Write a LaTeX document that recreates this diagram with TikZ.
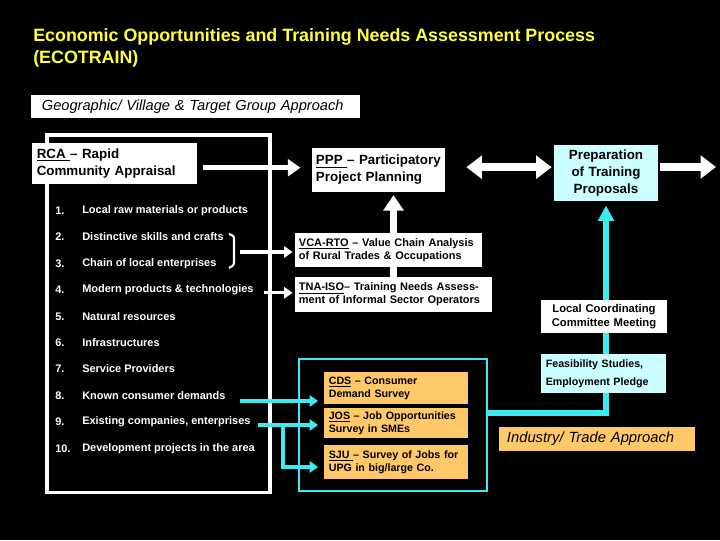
\documentclass[tikz,border=0pt]{standalone}
\usepackage{fontspec}
\setmainfont{Liberation Sans}
\usetikzlibrary{arrows.meta}

\definecolor{titleyellow}{RGB}{255,255,60}
\definecolor{flowcyan}{RGB}{60,235,240}
\definecolor{palecyan}{RGB}{204,255,255}
\definecolor{surveyorange}{RGB}{255,200,105}

\pgfdeclarelayer{canvas}
\pgfdeclarelayer{back}
\pgfsetlayers{canvas,back,main}

\tikzset{
 titletext/.style={anchor=west, align=left, inner sep=0pt, text=titleyellow,
   font=\bfseries\fontsize{12.7}{15.6}\selectfont},
 panel/.style={fill=white, text=black, align=left, inner xsep=0.12cm, inner ysep=0pt,
   font=\bfseries\fontsize{9.5}{12}\selectfont},
 smallpanel/.style={panel, font=\bfseries\fontsize{7.8}{9.4}\selectfont},
 surveybox/.style={smallpanel, fill=surveyorange, font=\bfseries\fontsize{7.6}{9.4}\selectfont},
 listnum/.style={anchor=west, inner sep=0pt, text=white, font=\bfseries\fontsize{7.8}{9}\selectfont},
 listtext/.style={listnum},
 bigarrow/.style={draw=white, line width=5.5pt, -{Triangle[length=11pt,width=16pt]}},
 whitearrow/.style={draw=white, line width=3.5pt, -{Triangle[length=9pt,width=12pt]}},
 smallarrow/.style={draw=white, line width=2.2pt, -{Triangle[length=6pt,width=8pt]}},
 cyanarrow/.style={draw=flowcyan, line width=2.6pt, -{Triangle[length=6pt,width=8pt]}},
 cyanflow/.style={draw=flowcyan, line width=4pt, -{Triangle[length=11pt,width=11pt]}}
}

\begin{document}
\begin{tikzpicture}[x=0.025cm, y=-0.025cm]
 \begin{pgfonlayer}{canvas}
  \fill[black] (0,0) rectangle (720,540);
 \end{pgfonlayer}
 \useasboundingbox (0,0) rectangle (720,540);

 % title
 \node[titletext] (title) at (33,48) {Economic Opportunities and Training Needs Assessment Process\\(ECOTRAIN)};

 % village side
 \node[panel, font=\itshape\fontsize{10.4}{12}\selectfont, inner xsep=0.275cm,
   text width=7.675cm, minimum height=0.575cm] (geo) at (195.5,106.5) {Geographic/ Village \& Target Group Approach};
 \node[draw=white, line width=2.2pt, minimum width=5.575cm, minimum height=8.925cm, inner sep=0pt] (villageframe) at (158.5,313.5) {};
 \node[panel, text width=3.885cm, minimum height=1.025cm] (rca) at (114.5,163.5) {\underline{RCA }-- Rapid\\Community Appraisal};

 \node[listnum] (n1) at (55,211) {1.};
 \node[listtext] (t1) at (82,211) {Local raw materials or products};
 \node[listnum] (n2) at (55,237) {2.};
 \node[listtext] (t2) at (82,237) {Distinctive skills and crafts};
 \node[listnum] (n3) at (55,264) {3.};
 \node[listtext] (t3) at (82,264) {Chain of local enterprises};
 \node[listnum] (n4) at (55,290) {4.};
 \node[listtext] (t4) at (82,290) {Modern products \& technologies};
 \node[listnum] (n5) at (55,317) {5.};
 \node[listtext] (t5) at (82,317) {Natural resources};
 \node[listnum] (n6) at (55,343) {6.};
 \node[listtext] (t6) at (82,343) {Infrastructures};
 \node[listnum] (n7) at (55,369) {7.};
 \node[listtext] (t7) at (82,369) {Service Providers};
 \node[listnum] (n8) at (55,396) {8.};
 \node[listtext] (t8) at (82,396) {Known consumer demands};
 \node[listnum] (n9) at (55,422) {9.};
 \node[listtext] (t9) at (82,422) {Existing companies, enterprises};
 \node[listnum] (n10) at (55,449) {10.};
 \node[listtext] (t10) at (82,449) {Development projects in the area};

 % bracket round items 2 and 3
 \draw[white, line width=1.5pt, rounded corners=1.5pt] (229,234) -- (234,236) -- (234,265) -- (229,268);
 \coordinate (brk) at (240,252);

 % planning column
 \node[panel, inner xsep=0.1cm, text width=3.125cm, minimum height=1.1cm] (ppp) at (378.5,170) {\underline{PPP }-- Participatory\\Project Planning};
 \node[smallpanel, inner xsep=0.1cm, text width=4.475cm, minimum height=0.85cm] (vca) at (388.5,250) {\underline{VCA-RTO} -- Value Chain Analysis\\of Rural Trades \& Occupations};
 \node[smallpanel, inner xsep=0.1cm, text width=4.725cm, minimum height=0.875cm] (tna) at (393.5,294.5) {\underline{TNA-ISO}-- Training Needs Assess-\\ment of Informal Sector Operators};

 % surveys
 \node[draw=flowcyan, line width=1.8pt, minimum width=4.7cm, minimum height=3.3cm, inner sep=0pt] (surveyframe) at (393,425) {};
 \node[surveybox, text width=3.36cm, minimum height=0.8cm] (cds) at (396,388) {\underline{CDS} -- Consumer\\Demand Survey};
 \node[surveybox, text width=3.36cm, minimum height=0.75cm] (jos) at (396,423) {\underline{JOS} -- Job Opportunities\\Survey in SMEs};
 \node[surveybox, text width=3.36cm, minimum height=0.85cm] (sju) at (396,462) {\underline{SJU }-- Survey of Jobs for\\UPG in big/large Co.};

 % right column
 \node[panel, fill=palecyan, align=center, text width=2.36cm, minimum height=1.4cm] (prep) at (606,173) {Preparation\\of Training\\Proposals};
 \node[smallpanel, align=center, font=\bfseries\fontsize{8}{9.8}\selectfont, text width=2.91cm, minimum height=0.825cm] (lcc) at (604,316.5) {Local Coordinating\\Committee Meeting};
 \node[smallpanel, fill=palecyan, font=\bfseries\fontsize{7.6}{12.8}\selectfont, text width=2.885cm, minimum height=0.975cm] (feas) at (603.5,373.5) {Feasibility Studies,\\Employment Pledge};
 \node[panel, fill=surveyorange, font=\itshape\fontsize{10.5}{12}\selectfont, inner xsep=0.2cm,
   text width=4.5cm, minimum height=0.6cm] (industry) at (597,439) {Industry/ Trade Approach};
 \coordinate (exitR) at (716,167);

 % connectors
 \begin{pgfonlayer}{back}
  \draw[bigarrow, line width=5pt, -{Triangle[length=11pt,width=14pt]}, shorten >=2pt] (tna.north) -- (tna.north |- ppp.south);
  \draw[cyanflow, shorten >=3pt] ([yshift=8.5pt]surveyframe.east) -| (prep.south);
 \end{pgfonlayer}
 \draw[whitearrow, shorten <=4pt, shorten >=8pt] ([yshift=-3pt]rca.east) -- ([yshift=-3pt]rca.east -| ppp.west);
 \draw[bigarrow, {Triangle[length=11pt,width=16pt]}-{Triangle[length=11pt,width=16pt]}, shorten <=15pt, shorten >=1.5pt] ([yshift=2pt]ppp.east) -- ([yshift=2pt]ppp.east -| prep.west);
 \draw[bigarrow, line width=5pt, shorten <=1.5pt] (prep.east |- exitR) -- (exitR);
 \draw[smallarrow, shorten >=1.5pt] (brk) -- (brk -| vca.west);
 \draw[smallarrow, shorten <=7pt, shorten >=1.5pt] ([yshift=-2pt]t4.east) -- ([yshift=-2pt]t4.east -| tna.west);
 \coordinate (s8) at (240,401);
 \coordinate (s9) at (258,425);
 \coordinate (s9b) at (283,425);
 \draw[cyanarrow, shorten >=4pt] (s8) -- (s8 -| cds.west);
 \draw[cyanarrow, shorten >=4pt] (s9) -- (s9 -| jos.west);
 \draw[cyanarrow, shorten >=4pt] (s9b) |- ([yshift=-3.5pt]sju.west);
\end{tikzpicture}
\end{document}
